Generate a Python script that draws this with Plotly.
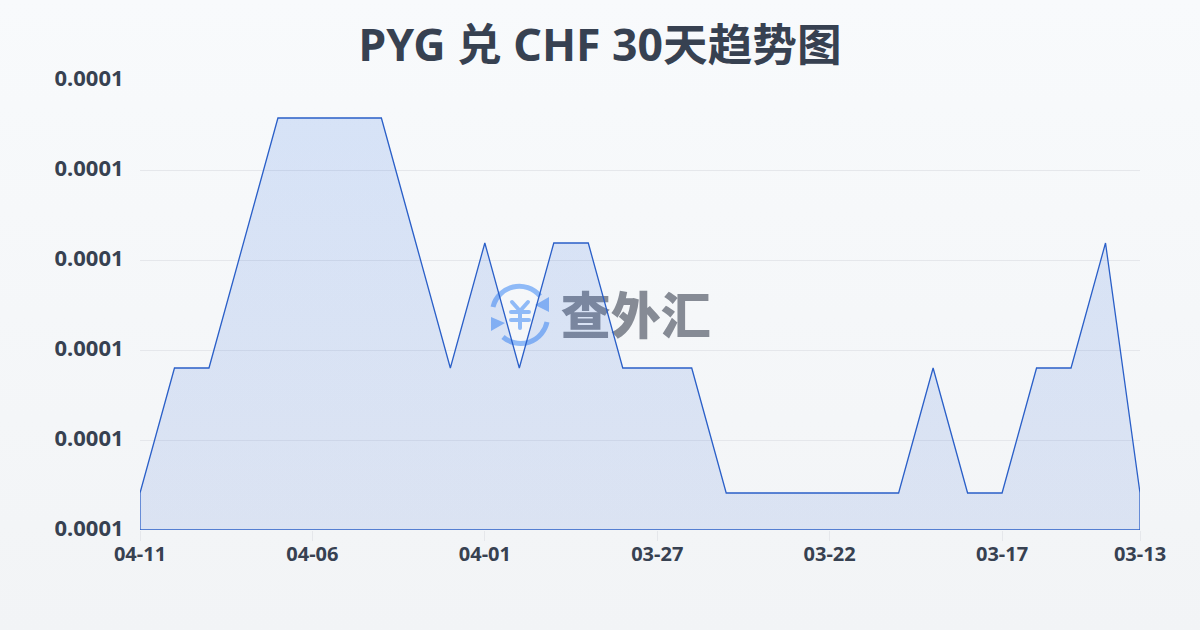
import base64
import plotly.graph_objects as go

dates = ["04-11","04-10","04-09","04-08","04-07","04-06","04-05","04-04","04-03","04-02",
         "04-01","03-31","03-30","03-29","03-28","03-27","03-26","03-25","03-24","03-23",
         "03-22","03-21","03-20","03-19","03-18","03-17","03-16","03-15","03-14","03-13"]
rates = [1.1,1.2,1.2,1.3,1.4,1.4,1.4,1.4,1.3,1.2,
         1.3,1.2,1.3,1.3,1.2,1.2,1.2,1.1,1.1,1.1,
         1.1,1.1,1.1,1.2,1.1,1.1,1.2,1.2,1.3,1.1]
rates = [r * 1e-4 for r in rates]
tick_dates = ["04-11","04-06","04-01","03-27","03-22","03-17","03-13"]
y_min = 0.00010704
y_max = 0.00014304
y_step = 0.0000072
title = "PYG 兑 CHF 30天趋势图"
watermark = "查外汇"

INK = "#374151"
LINE = "#2a5fc8"

x = list(range(len(dates)))
tick_idx = [dates.index(d) for d in tick_dates]

bg_svg = ('<svg xmlns="http://www.w3.org/2000/svg" width="1200" height="630">'
          '<defs><linearGradient id="g" x1="0" y1="0" x2="0" y2="1">'
          '<stop offset="0" stop-color="#f8fafc"/><stop offset="1" stop-color="#f2f4f6"/>'
          '</linearGradient></defs><rect width="1200" height="630" fill="url(#g)"/></svg>')
logo_svg = ('<svg xmlns="http://www.w3.org/2000/svg" width="64" height="64" viewBox="0 0 64 64">'
            '<g fill="none" stroke="#8fbaf7" stroke-width="5">'
            '<path d="M4 24 A27 27 0 0 1 51 13"/>'
            '<path d="M58 39 A27 27 0 0 1 14 54"/>'
            '<g stroke-width="4" stroke-linecap="round" stroke-linejoin="round">'
            '<path d="M23 19 L31 28 L39 19 M22 29 H40 M22 37 H40 M31 28 V45"/></g></g>'
            '<path d="M60 14 L60 29 L46 22 Z" fill="#8fbaf7"/>'
            '<path d="M2 34 L2 48 L16 40 Z" fill="#8fbaf7"/></svg>')


def uri(svg):
    return "data:image/svg+xml;base64," + base64.b64encode(svg.encode()).decode()


fig = go.Figure()
# watermark text sits beneath the area, as in the reference
fig.add_trace(go.Scatter(
    x=[14.38], y=[0.00012376], mode="text", text=[watermark],
    textfont=dict(family="Noto Sans CJK SC", size=50, color="#868b95", weight=900),
    textposition="middle center", hoverinfo="skip", showlegend=False, cliponaxis=False))
fig.add_trace(go.Scatter(
    x=x + [x[-1], x[0], x[0]],
    y=rates + [y_min, y_min, rates[0]],
    mode="lines", line=dict(color=LINE, width=1.3), fill="toself",
    fillgradient=dict(type="vertical",
                      colorscale=[[0, "rgba(50,100,210,0.125)"], [1, "rgba(45,110,225,0.16)"]]),
    hoverinfo="skip", showlegend=False, cliponaxis=False))

fig.update_layout(
    width=1200, height=630, autosize=False,
    margin=dict(l=140, r=60, t=80, b=100),
    paper_bgcolor="rgba(0,0,0,0)", plot_bgcolor="rgba(0,0,0,0)",
    title=dict(text=title, x=0.5, xanchor="center", y=0.928, yanchor="middle",
               font=dict(family="Noto Sans, Noto Sans CJK SC", size=44.6, color=INK, weight=700)),
    xaxis=dict(range=[0, len(dates) - 1], tickmode="array", tickvals=tick_idx, ticktext=tick_dates,
               showgrid=False, zeroline=False, showline=False,
               ticks="outside", ticklen=10, tickwidth=1, tickcolor="#e5e7eb", ticklabelstandoff=-4,
               tickfont=dict(family="Noto Sans", size=20, color=INK, weight=700)),
    yaxis=dict(range=[y_min, y_max], tickmode="linear", tick0=y_min, dtick=y_step,
               tickformat=".4f", showgrid=True, gridcolor="#e5e7eb", gridwidth=1,
               zeroline=False, showline=False, ticks="outside", ticklen=11,
               tickcolor="rgba(0,0,0,0)", ticklabelshift=-2,
               tickfont=dict(family="Noto Sans", size=22, color=INK, weight=700)),
    images=[
        dict(source=uri(bg_svg), xref="paper", yref="paper", x=-140 / 1000, y=1 + 80 / 450,
             sizex=1.2, sizey=1.4, sizing="stretch", xanchor="left", yanchor="top", layer="below"),
        dict(source=uri(logo_svg), xref="paper", yref="paper", x=(489 - 140) / 1000, y=(530 - 283) / 450,
             sizex=0.064, sizey=64 / 450, sizing="stretch", xanchor="left", yanchor="top", layer="below"),
    ],
)
fig.write_html("out.html", config=dict(displayModeBar=False),
               post_script="document.body.style.margin='0';document.documentElement.style.background='#f5f7fa';")
